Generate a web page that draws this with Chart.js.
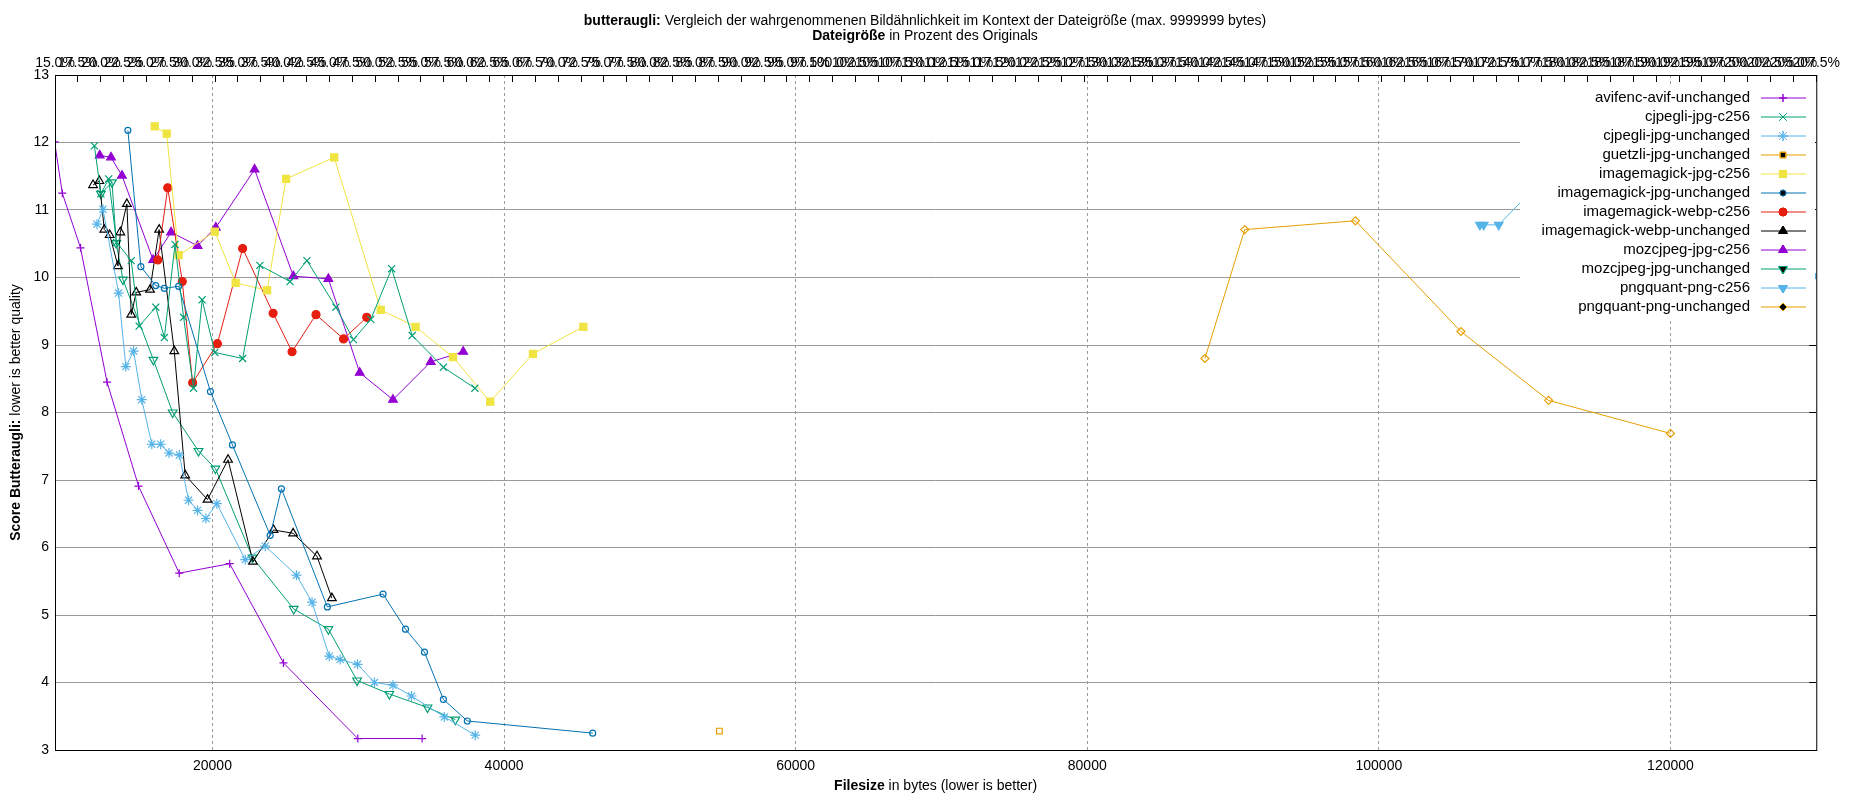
<!DOCTYPE html>
<html><head><meta charset="utf-8">
<script src="https://cdn.jsdelivr.net/npm/chart.js@4"></script>
<style>html,body{margin:0;padding:0;background:#fff}#w{width:1850px;height:800px}</style>
</head><body><div id="w"><canvas id="c"></canvas></div>
<script>
const seriesNames = ["avifenc-avif-unchanged","cjpegli-jpg-c256","cjpegli-jpg-unchanged","guetzli-jpg-unchanged","imagemagick-jpg-c256","imagemagick-jpg-unchanged","imagemagick-webp-c256","imagemagick-webp-unchanged","mozcjpeg-jpg-c256","mozcjpeg-jpg-unchanged","pngquant-png-c256","pngquant-png-unchanged"];

const avifX = [9170,9700,10950,12770,14930,17720,21180,24870,29970,34380];
const avifY = [12.01,11.25,10.44,8.45,6.91,5.62,5.76,4.29,3.17,3.17];
const cjpegliC256X = [11900,12350,12880,13425,14430,14970,16110,16700,17430,18020,18700,19290,20160,22070,23250,25320,26480,28470,29670,30860,32290,33700,35840,38000];
const cjpegliC256Y = [11.95,11.24,11.46,10.52,10.25,9.28,9.56,9.11,10.49,9.41,8.36,9.67,8.89,8.80,10.18,9.94,10.25,9.56,9.08,9.38,10.13,9.14,8.67,8.36];
const cjpegliUnX = [12080,12490,13560,14060,14590,15150,15840,16450,17020,17730,18360,18980,19550,20300,22250,23620,25760,26830,28010,28760,29950,31110,32380,33650,35910,38020];
const cjpegliUnY = [10.79,11.01,9.77,8.68,8.91,8.19,7.53,7.53,7.40,7.37,6.70,6.55,6.43,6.65,5.82,6.02,5.59,5.19,4.39,4.34,4.27,4.00,3.96,3.80,3.49,3.22];
const guetzliX = [54770];
const guetzliY = [3.28];
const imJpgC256X = [16040,16860,17680,20160,21590,23750,25050,28350,31540,33930,36500,39050,41980,45440];
const imJpgC256Y = [12.24,12.13,10.33,10.68,9.92,9.81,11.46,11.78,9.52,9.27,8.82,8.16,8.87,9.27];
const imJpgUnX = [14200,15090,16110,16700,17680,19860,21370,23960,24730,27880,31700,33240,34540,35840,37480,46080];
const imJpgUnY = [12.18,10.16,9.88,9.84,9.87,8.31,7.52,6.18,6.87,5.12,5.31,4.79,4.45,3.75,3.43,3.25];
const imWebpC256X = [16250,16930,17930,18640,20340,22070,24160,25460,27100,28990,30580];
const imWebpC256Y = [10.26,11.33,9.94,8.44,9.02,10.43,9.47,8.90,9.45,9.09,9.41];
const imWebpUnX = [11810,12240,12580,12950,13520,13680,14130,14430,14770,15720,16340,17380,18130,19660,21070,22780,24190,25530,27170,28190];
const imWebpUnY = [11.37,11.43,10.71,10.63,10.17,10.67,11.09,9.45,9.78,9.82,10.71,8.91,7.07,6.71,7.30,5.79,6.26,6.21,5.87,5.25];
const mozC256X = [12265,13040,13790,15930,17160,18980,20230,22890,25550,27950,30100,32380,34970,37200];
const mozC256Y = [11.81,11.78,11.51,10.26,10.67,10.47,10.74,11.60,10.02,9.98,8.59,8.19,8.75,8.90];
const mozUnX = [12350,13110,13400,13860,15950,17270,19040,20200,22750,25570,27950,29920,32130,34750,36660];
const mozUnY = [11.24,11.41,10.51,9.97,8.78,8.00,7.43,7.17,5.85,5.09,4.79,4.03,3.83,3.63,3.45];
const pngC256X = [106930,107190,108220,110290,114030,115920,117990,120090,124170,127450,129830];
const pngC256Y = [10.78,10.78,10.78,11.24,11.10,10.00,10.00,9.96,9.90,9.97,10.02];
const pngUnX = [88070,90800,98390,105630,111640,120000];
const pngUnY = [8.80,10.71,10.84,9.20,8.18,7.69];

const yTicks = [3,4,5,6,7,8,9,10,11,12,13];
const xTicks = [20000,40000,60000,80000,100000,120000];
const pctTicks = []; for (let p = 15; p <= 207.5 + 1e-9; p += 2.5) pctTicks.push(p);

const seriesX = [avifX,cjpegliC256X,cjpegliUnX,guetzliX,imJpgC256X,imJpgUnX,imWebpC256X,imWebpUnX,mozC256X,mozUnX,pngC256X,pngUnX];
const seriesY = [avifY,cjpegliC256Y,cjpegliUnY,guetzliY,imJpgC256Y,imJpgUnY,imWebpC256Y,imWebpUnY,mozC256Y,mozUnY,pngC256Y,pngUnY];
const colors = ["#9400d3","#009e73","#56b4e9","#e69f00","#f0e442","#0072b2","#e51e10","#000000","#9400d3","#009e73","#56b4e9","#e69f00"];
const styles = [
 {ps:'cross',r:4,fill:false,rot:0},{ps:'crossRot',r:5,fill:false,rot:0},{ps:'star',r:5,fill:false,rot:0},
 {ps:'rect',r:4,fill:false,rot:0},{ps:'rect',r:5,fill:true,rot:0},{ps:'circle',r:3,fill:false,rot:0},
 {ps:'circle',r:4,fill:true,rot:0},{ps:'triangle',r:5,fill:false,rot:0},{ps:'triangle',r:5,fill:true,rot:0},
 {ps:'triangle',r:5,fill:false,rot:180},{ps:'triangle',r:5,fill:true,rot:180},{ps:'rectRot',r:4,fill:false,rot:0}];

const datasets = seriesNames.map((n,i)=>({
  label:n, data: seriesX[i].map((x,j)=>({x:x,y:seriesY[i][j]})),
  borderColor:colors[i], backgroundColor: styles[i].fill?colors[i]:'#ffffff',
  pointBorderColor:colors[i], pointBackgroundColor: styles[i].fill?colors[i]:'rgba(0,0,0,0)',
  pointStyle:styles[i].ps, pointRadius:styles[i].r, pointRotation:styles[i].rot, pointBorderWidth:1.2,
  borderWidth:1, showLine:true, tension:0, xAxisID:'x', yAxisID:'y'
}));

const FONT = '"Liberation Sans", Arial, sans-serif';
function mixed(ctx, parts, x, y, align){
  let w=0; parts.forEach(p=>{ctx.font=(p[1]?'bold ':'')+'14px '+FONT; w+=ctx.measureText(p[0]).width;});
  let cx = align==='center'? x-w/2 : x;
  ctx.textAlign='left';
  parts.forEach(p=>{ctx.font=(p[1]?'bold ':'')+'14px '+FONT; ctx.fillText(p[0],cx,y); cx+=ctx.measureText(p[0]).width;});
}
const deco = {
  id:'deco',
  afterDraw(chart){
    const ctx=chart.ctx, a=chart.chartArea;
    ctx.save();
    ctx.strokeStyle='#000'; ctx.lineWidth=1;
    ctx.strokeRect(a.left+0.5,a.top+0.5,a.right-a.left,a.bottom-a.top);
    ctx.fillStyle='#000'; ctx.textBaseline='middle';
    mixed(ctx,[['butteraugli:',true],[' Vergleich der wahrgenommenen Bildähnlichkeit im Kontext der Dateigröße (max. 9999999 bytes)',false]],925,21,'center');
    mixed(ctx,[['Dateigröße',true],[' in Prozent des Originals',false]],925,36,'center');
    mixed(ctx,[['Filesize',true],[' in bytes (lower is better)',false]],(a.left+a.right)/2,786,'center');
    ctx.save(); ctx.translate(16,(a.top+a.bottom)/2); ctx.rotate(-Math.PI/2);
    mixed(ctx,[['Score Butteraugli:',true],[' lower is better quality',false]],0,0,'center');
    ctx.restore();
    // legend
    ctx.fillStyle='#fff'; ctx.fillRect(1520,85,295,235);
    seriesNames.forEach((n,i)=>{
      const y=98+i*19;
      ctx.fillStyle='#000'; ctx.font='15px '+FONT; ctx.textAlign='right'; ctx.fillText(n,1750,y);
      ctx.strokeStyle=colors[i]; ctx.lineWidth=1; ctx.beginPath(); ctx.moveTo(1761,y); ctx.lineTo(1806,y); ctx.stroke();
      Chart.helpers.drawPoint(ctx,{pointStyle:styles[i].ps,radius:styles[i].r,rotation:styles[i].rot,borderWidth:1.2},1783,y);
      ctx.fillStyle=styles[i].fill?colors[i]:'rgba(0,0,0,0)';
      ctx.beginPath();
      Chart.helpers.drawPoint(ctx,{pointStyle:styles[i].ps,radius:styles[i].r,rotation:styles[i].rot,borderWidth:1.2},1783,y);
    });
    ctx.restore();
  }
};
const gridOpt = {color:'#9a9a9a', lineWidth:1, drawTicks:false};
new Chart(document.getElementById('c'),{
  type:'scatter',
  data:{datasets},
  options:{
    responsive:true, maintainAspectRatio:false, animation:false,
    layout:{padding:0},
    plugins:{legend:{display:false},tooltip:{enabled:false}},
    scales:{
      x:{type:'linear',position:'bottom',min:9200,max:130000,
        afterBuildTicks:s=>{s.ticks=xTicks.map(v=>({value:v}));},
        afterFit:s=>{s.height=50;},
        grid:Object.assign({},gridOpt),border:{display:false,dash:[3,3]},
        ticks:{callback:v=>String(v),color:'#000',font:{size:14,family:FONT},padding:8,maxRotation:0}},
      x2:{type:'linear',position:'top',min:15,max:207.5,
        afterBuildTicks:s=>{s.ticks=pctTicks.map(v=>({value:v}));},
        afterFit:s=>{s.height=75;},
        grid:{display:true,drawOnChartArea:false,drawTicks:true,tickLength:-7,color:'#000'},border:{display:false},
        ticks:{callback:v=>v.toFixed(1)+'%',autoSkip:false,maxRotation:0,color:'#000',font:{size:14,family:FONT},padding:10}},
      y:{type:'linear',position:'left',min:3,max:13,
        afterBuildTicks:s=>{s.ticks=yTicks.map(v=>({value:v}));},
        afterFit:s=>{s.width=55;},
        grid:Object.assign({},gridOpt),border:{display:false},
        ticks:{color:'#000',font:{size:14,family:FONT},padding:6}},
      y2:{type:'linear',position:'right',min:3,max:13,
        afterBuildTicks:s=>{s.ticks=yTicks.map(v=>({value:v}));},
        afterFit:s=>{s.width=29;},
        grid:{display:true,drawOnChartArea:false,drawTicks:true,tickLength:-7,color:'#000'},border:{display:false},
        ticks:{display:false}}
    }
  },
  plugins:[deco,{id:'dash',beforeDraw(chart){
    ['x','y'].forEach(id=>{const s=chart.scales[id]; s.options.grid.borderDash=[3,3];});
  }}]
});
</script></body></html>
